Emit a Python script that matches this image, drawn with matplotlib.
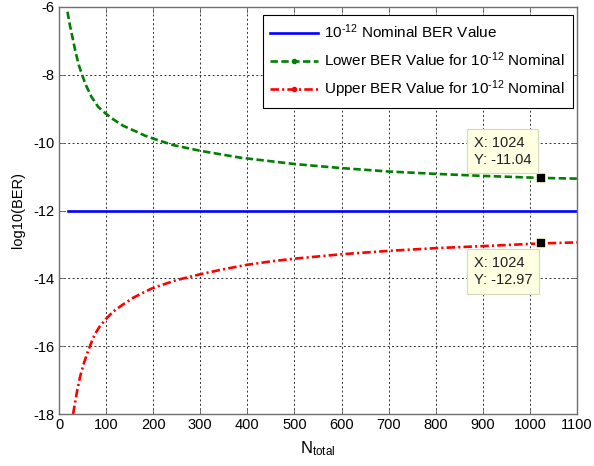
import numpy as np
import matplotlib
matplotlib.use('Agg')
import matplotlib.pyplot as plt
from matplotlib.lines import Line2D

plt.rcParams['font.family'] = ['Liberation Sans', 'DejaVu Sans']
plt.rcParams['mathtext.fontset'] = 'custom'
plt.rcParams['mathtext.rm'] = 'Liberation Sans'
plt.rcParams['mathtext.it'] = 'Liberation Sans:italic'
plt.rcParams['axes.unicode_minus'] = False

# values
n_nominal = [19, 1100]
ber_nominal = [-12, -12]

n_lower = [18, 23, 29, 35, 42, 49, 57, 69, 83, 99, 115, 136, 165, 182, 200, 242, 300,
           384, 500, 600, 700, 800, 900, 1024, 1100]
ber_lower = [-6.14, -6.53, -6.92, -7.32, -7.71, -8.0, -8.3, -8.65, -8.94, -9.14, -9.31,
             -9.5, -9.68, -9.79, -9.88, -10.07, -10.24, -10.44, -10.63, -10.75, -10.85,
             -10.92, -10.98, -11.04, -11.06]

n_upper = [30, 34, 39, 45, 52, 59, 67, 76, 87, 99, 115, 136, 158, 179, 197, 211, 250,
           300, 350, 400, 450, 500, 600, 700, 800, 900, 1024, 1100]
ber_upper = [-18.0, -17.67, -17.28, -16.89, -16.54, -16.25, -15.95, -15.65, -15.41,
             -15.21, -14.98, -14.77, -14.57, -14.42, -14.3, -14.23, -14.05, -13.88,
             -13.73, -13.6, -13.5, -13.42, -13.29, -13.19, -13.11, -13.05, -12.97, -12.94]

tip_n = [1024, 1024]
tip_ber = [-11.04, -12.97]

xticks = list(range(0, 1101, 100))
yticks = [-18, -16, -14, -12, -10, -8, -6]

fig = plt.figure(figsize=(5.94, 4.66), dpi=100)
ax = fig.add_axes([59/594, 52/466, 518/594, 407/466])

ax.plot(n_nominal, ber_nominal, color='#0000ff', lw=1.9)
ax.plot(n_lower, ber_lower, color='#008000', lw=1.9, dashes=(2.8, 1.3))
ax.plot(n_upper, ber_upper, color='#ff0000', lw=1.9, dashes=(3.2, 1.2, 0.8, 1.2))

# data tips
tip_box = dict(boxstyle='square,pad=0.45', fc='#ffffe1', ec='#d8d8c0', lw=0.8)
ax.plot(tip_n, tip_ber, 's', color='black', ms=7, mec='#ffffe1', mew=1.2, zorder=5)
ax.annotate('X: %d\nY: %.2f' % (tip_n[0], tip_ber[0]), xy=(tip_n[0], tip_ber[0]),
            xytext=(-48.5, 8), textcoords='offset points', ha='left', va='bottom',
            fontsize=10.5, color='#202020', linespacing=1.3, bbox=tip_box, zorder=6)
ax.annotate('X: %d\nY: %.2f' % (tip_n[1], tip_ber[1]), xy=(tip_n[1], tip_ber[1]),
            xytext=(-48.5, -9), textcoords='offset points', ha='left', va='top',
            fontsize=10.5, color='#202020', linespacing=1.3, bbox=tip_box, zorder=6)

ax.set_xlim(0, 1100)
ax.set_ylim(-18, -6)
ax.set_xticks(xticks)
ax.set_yticks(yticks)
ax.tick_params(direction='in', top=True, right=True, labelsize=10.5, length=4, width=0.6,
               color='#606060', pad=3)
ax.grid(True, color='#303030', linestyle=(0, (2, 2.5)), lw=0.7)
for s in ax.spines.values():
    s.set_color('#707070')
    s.set_linewidth(1.0)

ax.set_xlabel(r'N$_{\mathrm{total}}$', fontsize=12, labelpad=5)
ax.set_ylabel('log10(BER)', fontsize=10.5, labelpad=6)

handles = [
    Line2D([], [], color='#0000ff', lw=1.9),
    Line2D([], [], color='#008000', lw=1.9, dashes=(2.8, 1.3), marker='.', ms=6),
    Line2D([], [], color='#ff0000', lw=1.9, dashes=(3.2, 1.2, 0.8, 1.2), marker='.', ms=6),
]
labels = [r'10$^{\text{-12}}$ Nominal BER Value',
          r'Lower BER Value for 10$^{\text{-12}}$ Nominal',
          r'Upper BER Value for 10$^{\text{-12}}$ Nominal']
leg = ax.legend(handles, labels, loc='upper right', bbox_to_anchor=(0.992, 0.980),
                borderaxespad=0, fontsize=11, fancybox=False, framealpha=1,
                edgecolor='black', handlelength=3.1, labelspacing=0.6, handletextpad=0.45,
                borderpad=0.5)
leg.get_frame().set_linewidth(0.8)

fig.savefig('out.png', dpi=100)
